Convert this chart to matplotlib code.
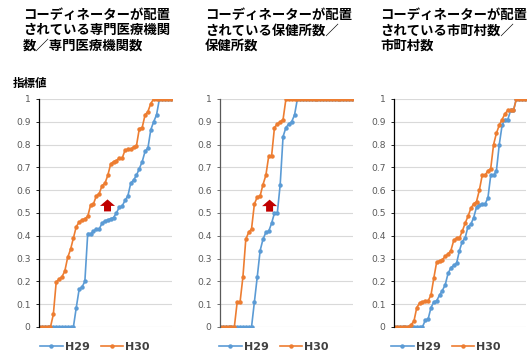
import matplotlib
matplotlib.use("Agg")
import matplotlib.pyplot as plt
import matplotlib.transforms as mtransforms
from matplotlib.patches import Polygon
import numpy as np

plt.rcParams['font.family'] = ['DejaVu Sans']

titles = [
    "コーディネーターが配置\nされている専門医療機関\n数／専門医療機関数",
    "コーディネーターが配置\nされている保健所数／\n保健所数",
    "コーディネーターが配置\nされている市町村数／\n市町村数",
]
series_names = ["H29", "H30"]
y_label = "指標値"
yticks = [0, 0.1, 0.2, 0.3, 0.4, 0.5, 0.6, 0.7, 0.8, 0.9, 1]
ytick_labels = ["0", "0.1", "0.2", "0.3", "0.4", "0.5", "0.6", "0.7", "0.8", "0.9", "1"]

p1_h29 = [0]*13 + [0.085, 0.165, 0.175, 0.2, 0.41, 0.41, 0.42, 0.43, 0.43, 0.455, 0.465,
                   0.47, 0.475, 0.48, 0.5, 0.525, 0.53, 0.555, 0.575, 0.63, 0.645, 0.665,
                   0.695, 0.725, 0.77, 0.785, 0.865, 0.9, 0.93, 1.0, 1.0, 1.0, 1.0, 1.0]
p1_h30 = [0]*5 + [0.055, 0.197, 0.21, 0.22, 0.245, 0.305, 0.34, 0.39, 0.44, 0.46, 0.47,
                  0.475, 0.485, 0.535, 0.54, 0.575, 0.585, 0.62, 0.63, 0.665, 0.715, 0.725,
                  0.73, 0.74, 0.74, 0.775, 0.78, 0.78, 0.79, 0.795, 0.87, 0.875, 0.93, 0.945,
                  0.98, 1.0, 1.0, 1.0, 1.0, 1.0, 1.0, 1.0]
p2_h29 = [0]*12 + [0.11, 0.22, 0.335, 0.385, 0.415, 0.42, 0.455, 0.5, 0.5, 0.625, 0.835,
                   0.875, 0.89, 0.9, 0.93] + [1.0]*20
p2_h30 = [0]*6 + [0.11, 0.11, 0.22, 0.385, 0.415, 0.43, 0.54, 0.57, 0.575, 0.625, 0.665,
                  0.75, 0.75, 0.875, 0.89, 0.9, 0.91] + [1.0]*24
p3_h29 = [0]*11 + [0.03, 0.035, 0.085, 0.11, 0.115, 0.14, 0.16, 0.185, 0.235, 0.26, 0.27,
                   0.28, 0.335, 0.375, 0.39, 0.44, 0.45, 0.48, 0.525, 0.535, 0.54, 0.54,
                   0.565, 0.665, 0.665, 0.685, 0.8, 0.885, 0.91, 0.91, 0.95, 0.95,
                   1.0, 1.0, 1.0, 1.0]
p3_h30 = [0]*6 + [0.01, 0.025, 0.085, 0.105, 0.11, 0.115, 0.115, 0.14, 0.215, 0.285, 0.29,
                  0.295, 0.31, 0.32, 0.335, 0.38, 0.39, 0.39, 0.42, 0.455, 0.485, 0.52, 0.54,
                  0.55, 0.6, 0.665, 0.665, 0.685, 0.695, 0.8, 0.85, 0.885, 0.91, 0.935, 0.95,
                  0.95, 0.95, 1.0, 1.0, 1.0, 1.0]
panels = [(p1_h29, p1_h30), (p2_h29, p2_h30), (p3_h29, p3_h30)]

# annotation arrows (x index, y bottom); None = no arrow
arrows = [(23.9, 0.507), (17.3, 0.506), None]

blue = "#5B9BD5"
orange = "#ED7D31"
W, H = 531, 356
fig = plt.figure(figsize=(W/100, H/100), dpi=100)

ax_lr = [(39, 172), (220, 353), (394, 526)]
title_x = [23, 205, 380]
legend_cx = [95, 274, 446]
spine_cols = ["#000000", "#595959", "#000000"]
top_px, bot_px = 99, 327

jp = ['Noto Sans CJK JP', 'DejaVu Sans']

# arrow shape in pixels relative to bottom-centre
arrow_px = [(-3.5, 0), (3.5, 0), (3.5, 5.5), (7.5, 5.5), (0, 12), (-7.5, 5.5), (-3.5, 5.5)]

for i, (l, r) in enumerate(ax_lr):
    ax = fig.add_axes([l/W, 1-bot_px/H, (r-l)/W, (bot_px-top_px)/H])
    h29, h30 = panels[i]
    ax.plot(np.arange(len(h29)), h29, color=blue, lw=1.2, marker='o', ms=2.2,
            label=series_names[0], zorder=3)
    ax.plot(np.arange(len(h30)), h30, color=orange, lw=1.2, marker='o', ms=2.2,
            label=series_names[1], zorder=4)
    ax.set_xlim(0, len(h29)-1+0.4)
    ax.set_ylim(0, 1)
    ax.set_yticks(yticks)
    ax.set_yticklabels(ytick_labels, fontsize=6.6, color="#595959")
    ax.set_xticks([])
    ax.grid(axis='y', color="#D9D9D9", lw=0.8)
    ax.set_axisbelow(True)
    for s in ['top', 'right', 'bottom']:
        ax.spines[s].set_visible(False)
    ax.spines['left'].set_color(spine_cols[i])
    ax.spines['left'].set_linewidth(0.9)
    ax.spines['left'].set_zorder(5)
    ax.tick_params(axis='y', length=2, width=0.6, color=spine_cols[i], pad=4)
    if arrows[i] is not None:
        ax_x, yb = arrows[i]
        trans = fig.dpi_scale_trans + mtransforms.ScaledTranslation(ax_x, yb, ax.transData)
        verts = [(px/100, py/100) for px, py in arrow_px]
        ax.add_patch(Polygon(verts, closed=True, transform=trans, facecolor="#C00000",
                             edgecolor="none", zorder=6))
    fig.legend(handles=ax.get_lines(), labels=series_names, ncol=2, frameon=False,
               loc='center', bbox_to_anchor=(legend_cx[i]/W, 1-347/H),
               prop=dict(size=8, weight='bold'), handlelength=2.0,
               columnspacing=1.0, handletextpad=0.2, labelcolor="#404040")
    fig.text(title_x[i]/W, 1-8/H, titles[i], ha='left', va='top', fontsize=9.6,
             fontweight='bold', family=jp, linespacing=1.12, color="#000000")

fig.text(13/W, 1-84/H, y_label, ha='left', va='center', fontsize=8.3,
         fontweight='bold', family=jp)

fig.savefig("out.png", dpi=100)
